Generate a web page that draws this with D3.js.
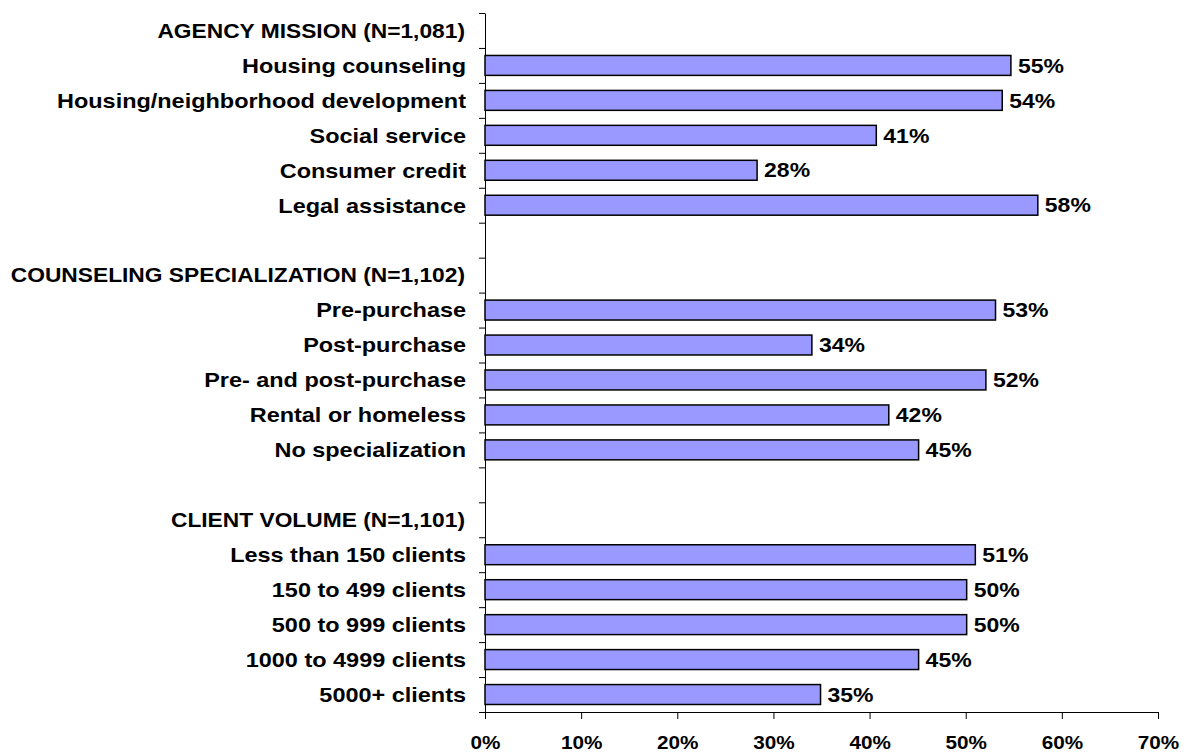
<!DOCTYPE html>
<html>
<head>
<meta charset="utf-8">
<script src="https://cdn.jsdelivr.net/npm/d3@7"></script>
<style>
  body { margin: 0; background: #fff; }
  svg { display: block; }
  text { font-family: Arial, "Liberation Sans", sans-serif; font-weight: bold; fill: #000; }
</style>
</head>
<body>
<div id="chart"></div>
<script>
// data
var groupTitles = ["AGENCY MISSION (N=1,081)", "COUNSELING SPECIALIZATION (N=1,102)", "CLIENT VOLUME (N=1,101)"];

var missionCats = ["Housing counseling", "Housing/neighborhood development", "Social service", "Consumer credit", "Legal assistance"];
var missionVals = [54.7, 53.8, 40.7, 28.3, 57.5];

var specCats = ["Pre-purchase", "Post-purchase", "Pre- and post-purchase", "Rental or homeless", "No specialization"];
var specVals = [53.1, 34.0, 52.1, 42.0, 45.1];

var volumeCats = ["Less than 150 clients", "150 to 499 clients", "500 to 999 clients", "1000 to 4999 clients", "5000+ clients"];
var volumeVals = [51.0, 50.1, 50.1, 45.1, 34.9];

var xTicks = [0, 10, 20, 30, 40, 50, 60, 70];

(function () {
	"use strict";

	var width = 1189,
		height = 755,
		margin = {top: 13, right: 31, bottom: 43, left: 485},
		barColor = "#9999ff",
		stretch = 1.15; // glyphs in the reference are wider than plain Arial

	// build the row list: header, items, blank spacer
	var groups = [
		{title: groupTitles[0], cats: missionCats, vals: missionVals},
		{title: groupTitles[1], cats: specCats, vals: specVals},
		{title: groupTitles[2], cats: volumeCats, vals: volumeVals}
	];
	var rows = [];
	groups.forEach(function (g, gi) {
		rows.push({type: "header", label: g.title});
		g.cats.forEach(function (c, i) {
			rows.push({type: "bar", label: c, value: g.vals[i]});
		});
		if (gi < groups.length - 1) rows.push({type: "blank", label: ""});
	});
	rows.forEach(function (r, i) { r.id = i; });

	var svg = d3.select("#chart").append("svg")
		.attr("width", width)
		.attr("height", height);

	var innerH = height - margin.top - margin.bottom;

	var x = d3.scaleLinear()
		.domain([0, 70])
		.range([margin.left, width - margin.right]);

	var y = d3.scaleBand()
		.domain(rows.map(function (d) { return d.id; }))
		.range([margin.top, margin.top + innerH])
		.paddingInner(0.43)
		.paddingOuter(0.215);

	// boundary scale for the category tick marks
	var yEdge = d3.scaleLinear()
		.domain([0, rows.length])
		.range([margin.top, margin.top + innerH]);

	// y axis: line with tick marks between rows
	var yAxis = svg.append("g")
		.attr("transform", "translate(" + margin.left + ",0)")
		.call(d3.axisLeft(yEdge)
			.tickValues(d3.range(rows.length + 1))
			.tickFormat("")
			.tickSize(6)
			.tickSizeOuter(0));
	yAxis.select(".domain").attr("stroke", "#000");
	yAxis.selectAll(".tick line").attr("stroke", "#000");

	// x axis
	var xAxis = svg.append("g")
		.attr("transform", "translate(0," + (margin.top + innerH) + ")")
		.call(d3.axisBottom(x)
			.tickValues(xTicks)
			.tickFormat(function (d) { return d + "%"; })
			.tickSize(7)
			.tickSizeOuter(0));
	xAxis.select(".domain").attr("stroke", "#000");
	xAxis.selectAll(".tick line").attr("stroke", "#000");
	xAxis.selectAll(".tick text").remove();
	xAxis.selectAll(".tick").append("text")
		.attr("transform", "translate(0,37) scale(" + stretch + ",1)")
		.attr("text-anchor", "middle")
		.attr("font-size", "18px")
		.text(function (d) { return d + "%"; });

	// bars
	var barRows = rows.filter(function (d) { return d.type === "bar"; });

	svg.append("g").selectAll("rect")
		.data(barRows)
		.enter().append("rect")
		.attr("x", x(0))
		.attr("y", function (d) { return y(d.id); })
		.attr("width", function (d) { return x(d.value) - x(0); })
		.attr("height", y.bandwidth())
		.attr("fill", barColor)
		.attr("stroke", "#000")
		.attr("stroke-width", 1.5);

	// value labels
	svg.append("g").selectAll("text")
		.data(barRows)
		.enter().append("text")
		.attr("transform", function (d) {
			return "translate(" + (x(d.value) + 7) + "," + (y(d.id) + y.bandwidth() / 2) + ") scale(" + stretch + ",1)";
		})
		.attr("dy", "0.36em")
		.attr("font-size", "20px")
		.text(function (d) { return Math.round(d.value) + "%"; });

	// category and group labels
	svg.append("g").selectAll("text")
		.data(rows.filter(function (d) { return d.type !== "blank"; }))
		.enter().append("text")
		.attr("transform", function (d) {
			var dx = d.type === "header" ? margin.left - 20 : margin.left - 19;
			return "translate(" + dx + "," + (y(d.id) + y.bandwidth() / 2) + ") scale(" + stretch + ",1)";
		})
		.attr("text-anchor", "end")
		.attr("dy", "0.36em")
		.attr("font-size", function (d) { return d.type === "header" ? "19.8px" : "20.4px"; })
		.text(function (d) { return d.label; });
}());
</script>
</body>
</html>
